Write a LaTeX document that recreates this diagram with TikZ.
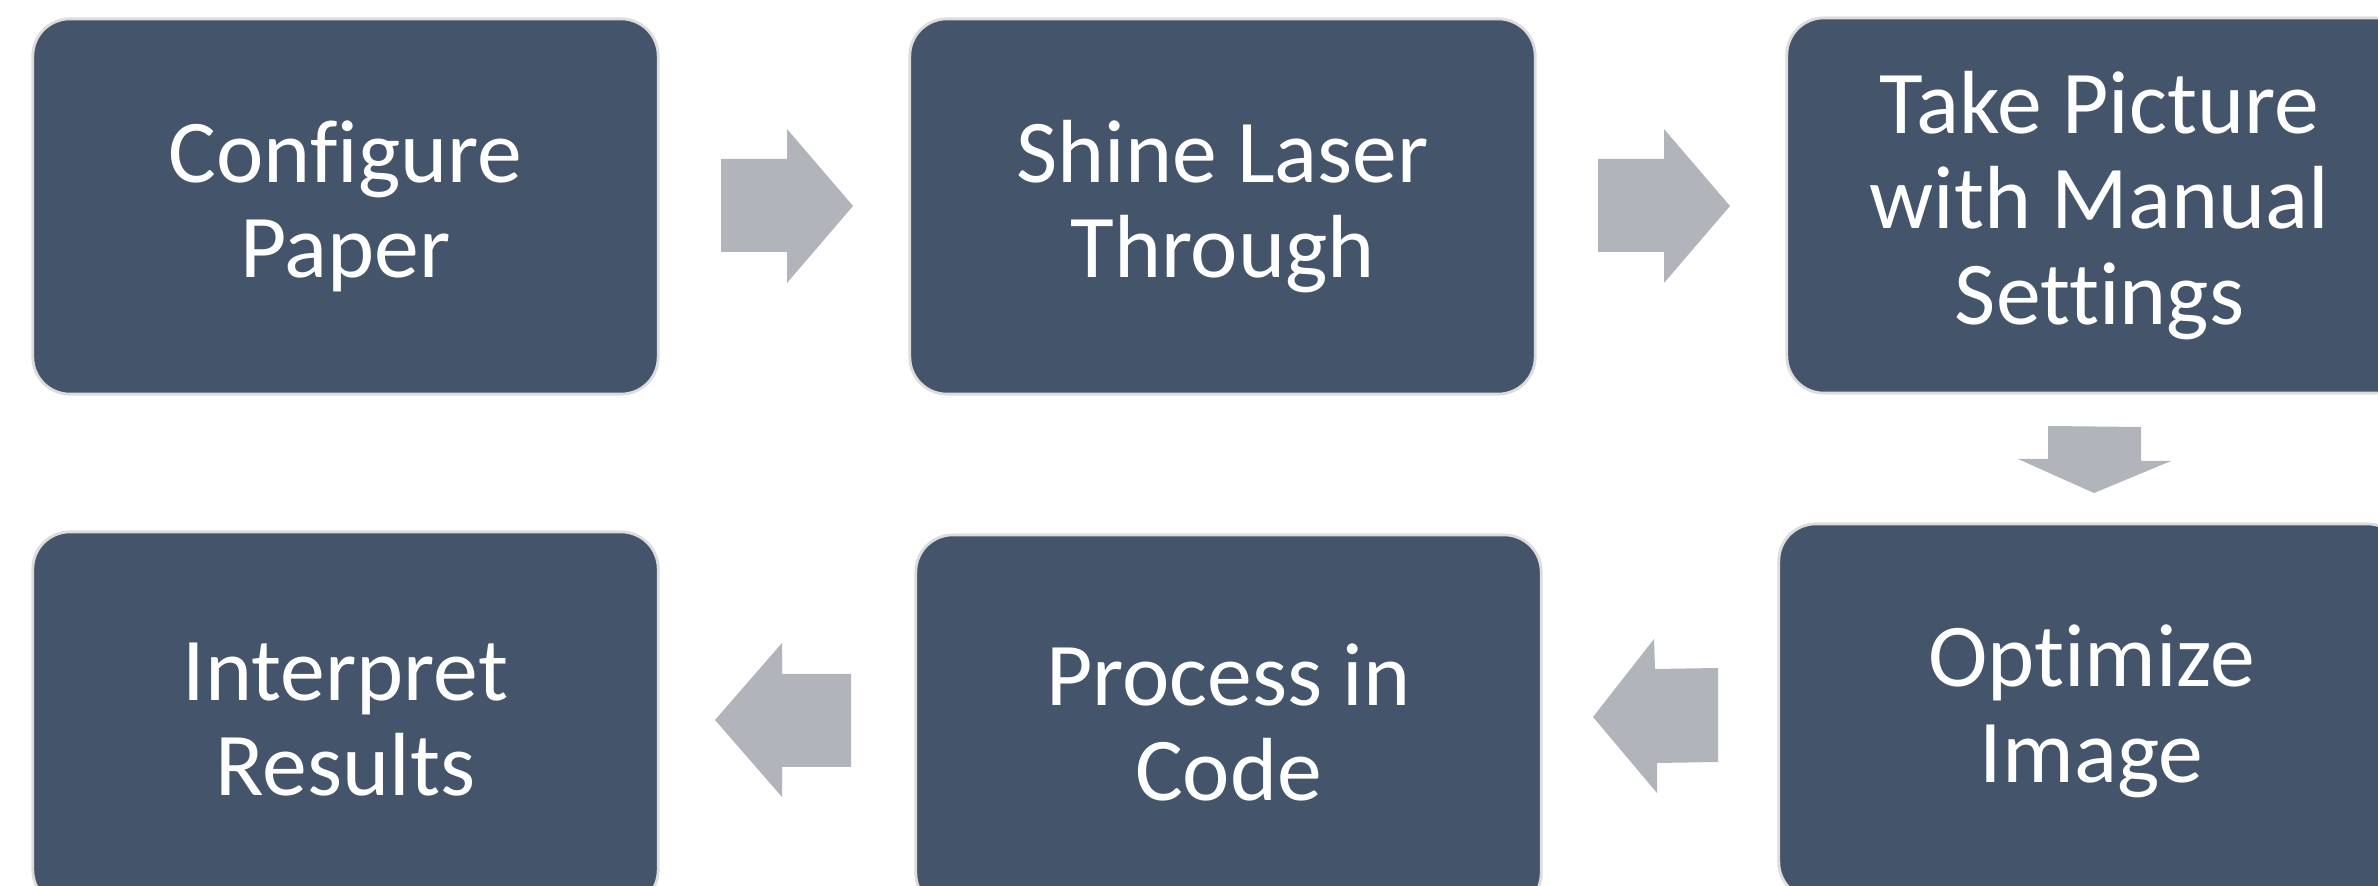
\documentclass[tikz,border=0pt]{standalone}
\usepackage{fontspec}
\setmainfont{Carlito}[Ligatures={NoCommon}]
\definecolor{boxfill}{HTML}{44546A}
\definecolor{boxline}{HTML}{DCDCDC}
\definecolor{arrowfill}{HTML}{B1B4BB}
\begin{document}
\begin{tikzpicture}[x=0.01cm,y=-0.01cm,
  stepbox/.style={rectangle, rounded corners=0.37cm, fill=boxfill, draw=boxline, line width=0.8pt,
    minimum width=6.25cm, minimum height=3.75cm, inner sep=0pt, align=center, text=white,
    font=\fontsize{25.5}{27.2}\selectfont},
  blockarrow/.style={fill=arrowfill, draw=none}]
\useasboundingbox (0,0) rectangle (2378,886);
\clip (0,0) rectangle (2378,886);
\fill[white] (0,0) rectangle (2378,886);
\node[stepbox] (b1) at (345.5,206.5) {Configure\\Paper};
\node[stepbox] (b2) at (1222.5,206.5) {Shine Laser\\Through};
\node[stepbox] (b3) at (2099.5,205.5) {Take Picture\\with Manual\\Settings};
\node[stepbox] (b4) at (2091.5,711.5) {Optimize\\Image};
\node[stepbox] (b5) at (1228.5,722.5) {Process in\\Code};
\node[stepbox] (b6) at (345.5,719.5) {Interpret\\Results};
% block arrows
\fill[blockarrow] (721,159) -- (787,159) -- (787,129) -- (853,206) -- (787,283) -- (787,252) -- (721,252) -- cycle;
\fill[blockarrow] (1598,159) -- (1664,159) -- (1664,129) -- (1730,206) -- (1664,283) -- (1664,252) -- (1598,252) -- cycle;
\fill[blockarrow] (2048,426) -- (2141,427) -- (2141,461) -- (2171,461) -- (2094,493) -- (2018,459) -- (2048,459) -- cycle;
\fill[blockarrow] (1718,668) -- (1718,762) -- (1657,763) -- (1657,793) -- (1593,717) -- (1654,639) -- (1655,669) -- cycle;
\fill[blockarrow] (851,674) -- (851,767) -- (782,767) -- (782,797) -- (715,720) -- (782,643) -- (782,674) -- cycle;
\end{tikzpicture}
\end{document}
